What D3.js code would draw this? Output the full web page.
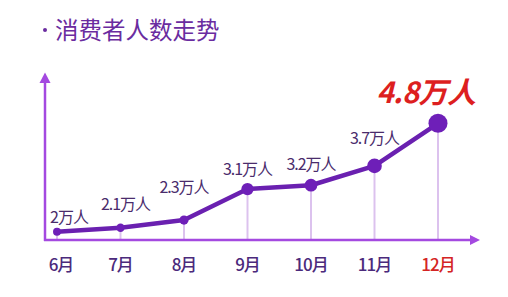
<!DOCTYPE html>
<html>
<head>
<meta charset="utf-8">
<script src="https://cdn.jsdelivr.net/npm/d3@7"></script>
<style>
  body { margin: 0; background: #fff; }
  svg { display: block; font-family: "Noto Sans CJK SC", "Noto Sans", sans-serif; }
</style>
</head>
<body>
<script>
/* data */
const months = ['6月', '7月', '8月', '9月', '10月', '11月', '12月'];
const values = [2, 2.1, 2.3, 3.1, 3.2, 3.7, 4.8];
const valueLabels = ['2万人', '2.1万人', '2.3万人', '3.1万人', '3.2万人', '3.7万人', '4.8万人'];

/* layout */
const W = 508, H = 297;
const axisX = 45, axisY = 240;
// how far each value label sits above its dot (hand placed in the original)
const labelLift = [9, 18, 27, 14, 15, 22, 20];

const svg = d3.select('body').append('svg')
  .attr('width', W)
  .attr('height', H);

/* scales */
const xScale = d3.scalePoint().domain(months).range([57, 438]);
const yScale = d3.scaleLinear().domain([1.785, 4.8]).range([axisY, 123.3]);
const rScale = d3.scaleLinear().domain([2, 4.8]).range([4, 9.5]);

/* title */
svg.append('circle')
  .attr('cx', 45).attr('cy', 30).attr('r', 2)
  .style('fill', '#6a2ca0');
svg.append('text')
  .attr('x', 55).attr('y', 39)
  .style('font-size', '23.5px')
  .style('fill', '#6a2ca0')
  .text('消费者人数走势');

/* drop lines */
svg.selectAll('.drop')
  .data(values)
  .enter().append('line')
  .attr('class', 'drop')
  .attr('x1', (d, i) => xScale(months[i]))
  .attr('x2', (d, i) => xScale(months[i]))
  .attr('y1', d => yScale(d))
  .attr('y2', axisY)
  .style('stroke', '#dcc2ee')
  .style('stroke-width', 2);

/* axes with arrow heads */
const axisColor = '#a449e0';
svg.append('line')
  .attr('x1', axisX).attr('x2', axisX)
  .attr('y1', axisY + 1).attr('y2', 80)
  .style('stroke', axisColor).style('stroke-width', 2.5);
svg.append('line')
  .attr('x1', axisX - 1).attr('x2', 472)
  .attr('y1', axisY).attr('y2', axisY)
  .style('stroke', axisColor).style('stroke-width', 2.5);
svg.append('path')
  .attr('d', `M${axisX},72.5 L${axisX + 5.5},83 L${axisX - 5.5},83 Z`)
  .style('fill', axisColor);
svg.append('path')
  .attr('d', `M480,${axisY} L470,${axisY - 5} L470,${axisY + 5} Z`)
  .style('fill', axisColor);

/* line */
const line = d3.line()
  .x((d, i) => xScale(months[i]))
  .y(d => yScale(d));

svg.append('path')
  .datum(values)
  .attr('d', line)
  .style('fill', 'none')
  .style('stroke', '#6a20b0')
  .style('stroke-width', 4.5)
  .style('stroke-linejoin', 'round');

/* dots */
svg.selectAll('.dot')
  .data(values)
  .enter().append('circle')
  .attr('class', 'dot')
  .attr('cx', (d, i) => xScale(months[i]))
  .attr('cy', d => yScale(d))
  .attr('r', d => rScale(d))
  .style('fill', '#6e1fb8');

/* value labels */
const last = values.length - 1;
svg.selectAll('.vlabel')
  .data(values)
  .enter().append('text')
  .attr('class', 'vlabel')
  .attr('x', (d, i) => xScale(months[i]) + (i === 0 ? 12 : i === 1 ? 5 : i === last ? -12 : 0))
  .attr('y', (d, i) => yScale(d) - labelLift[i])
  .attr('text-anchor', 'middle')
  .style('font-size', (d, i) => i === last ? '29px' : '16px')
  .style('font-weight', (d, i) => i === last ? 'bold' : 'normal')
  .style('font-style', (d, i) => i === last ? 'italic' : 'normal')
  .style('letter-spacing', (d, i) => i === last ? '-0.5px' : '-1px')
  .style('fill', (d, i) => i === last ? '#dd1f1f' : '#4a2c6c')
  .text((d, i) => valueLabels[i]);

/* month labels */
svg.selectAll('.mlabel')
  .data(months)
  .enter().append('text')
  .attr('class', 'mlabel')
  .attr('x', d => xScale(d) + (d === '6月' ? 4 : 0))
  .attr('y', 271)
  .attr('text-anchor', 'middle')
  .style('font-size', '17px')
  .style('font-weight', '500')
  .style('letter-spacing', '-1px')
  .style('fill', d => d === '12月' ? '#d42424' : '#4b2a7c')
  .text(d => d);
</script>
</body>
</html>
